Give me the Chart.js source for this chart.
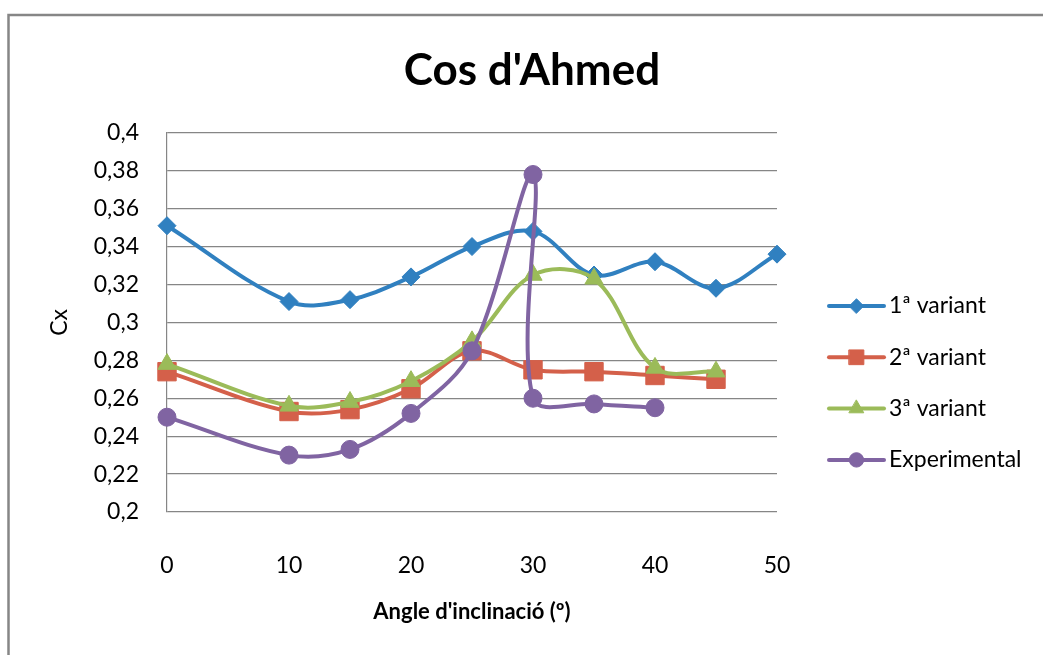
<!DOCTYPE html>
<html>
<head>
<meta charset="utf-8">
<script src="https://cdn.jsdelivr.net/npm/chart.js@4.4.0/dist/chart.umd.min.js"></script>
<style>
  html, body { margin: 0; padding: 0; background: #fff; }
  #wrap { position: relative; width: 1043px; height: 655px; }
</style>
</head>
<body>
<div id="wrap"><canvas id="cxChart"></canvas></div>
<script>
// angles (º) and drag coefficients
const angles1 = [0, 10, 15, 20, 25, 30, 35, 40, 45, 50];
const cx1 = [0.351, 0.311, 0.312, 0.324, 0.340, 0.348, 0.325, 0.332, 0.318, 0.336];
const angles2 = [0, 10, 15, 20, 25, 30, 35, 40, 45];
const cx2 = [0.274, 0.253, 0.254, 0.265, 0.285, 0.275, 0.274, 0.272, 0.270];
const angles3 = [0, 10, 15, 20, 25, 30, 35, 40, 45];
const cx3 = [0.278, 0.256, 0.258, 0.269, 0.290, 0.325, 0.323, 0.276, 0.274];
const anglesExp = [0, 10, 15, 20, 25, 30, 30, 35, 40];
const cxExp = [0.250, 0.230, 0.233, 0.252, 0.285, 0.378, 0.260, 0.257, 0.255];

const seriesNames = ['1ª variant', '2ª variant', '3ª variant', 'Experimental'];
const xTicks = [0, 10, 20, 30, 40, 50];
const yTicks = [0.2, 0.22, 0.24, 0.26, 0.28, 0.3, 0.32, 0.34, 0.36, 0.38, 0.4];
const yTickLabels = ['0,2', '0,22', '0,24', '0,26', '0,28', '0,3', '0,32', '0,34', '0,36', '0,38', '0,4'];

const toPoints = (xs, ys) => xs.map((x, i) => ({ x: x, y: ys[i] }));

Chart.defaults.font.family = 'Lato, sans-serif';
Chart.defaults.color = '#000';

// grey frame of the original picture (top and left edges only)
const framePlugin = {
  id: 'frame',
  beforeDraw(chart) {
    const ctx = chart.ctx;
    ctx.save();
    ctx.fillStyle = '#fff';
    ctx.fillRect(0, 0, chart.width, chart.height);
    ctx.strokeStyle = '#868686';
    ctx.lineWidth = 2.5;
    ctx.beginPath();
    ctx.moveTo(8.5, chart.height);
    ctx.lineTo(8.5, 15);
    ctx.lineTo(chart.width, 15);
    ctx.stroke();
    ctx.restore();
  }
};

// Excel style legend: line with the marker on it
const sideLegend = {
  id: 'sideLegend',
  afterDraw(chart) {
    const ctx = chart.ctx;
    const x0 = chart.chartArea.right + 52;
    ctx.save();
    chart.data.datasets.forEach((ds, i) => {
      const y = 306 + i * 51.3;
      ctx.strokeStyle = ds.borderColor;
      ctx.lineWidth = 4;
      ctx.lineCap = 'round';
      ctx.beginPath();
      ctx.moveTo(x0, y);
      ctx.lineTo(x0 + 55, y);
      ctx.stroke();
      ctx.fillStyle = ds.backgroundColor;
      ctx.lineWidth = 1;
      Chart.helpers.drawPoint(ctx, {
        pointStyle: ds.pointStyle,
        radius: ds.pointRadius * 0.8,
        rotation: 0,
        borderWidth: 1
      }, x0 + 27.5, y);
      ctx.fillStyle = '#000';
      ctx.font = '23px Lato, sans-serif';
      ctx.textAlign = 'left';
      ctx.textBaseline = 'middle';
      ctx.fillText(ds.label, x0 + 60, y);
    });
    ctx.restore();
  }
};

const ctx = document.getElementById('cxChart').getContext('2d');
const cxChart = new Chart(ctx, {
  type: 'line',
  data: {
    datasets: [{
      label: seriesNames[0],
      data: toPoints(angles1, cx1),
      borderColor: '#3080C0',
      backgroundColor: '#3080C0',
      pointStyle: 'rectRot',
      pointRadius: 9,
      order: 4
    }, {
      label: seriesNames[1],
      data: toPoints(angles2, cx2),
      borderColor: '#D4604A',
      backgroundColor: '#D4604A',
      pointStyle: 'rect',
      pointRadius: 13,
      order: 3
    }, {
      label: seriesNames[2],
      data: toPoints(angles3, cx3),
      borderColor: '#9BBB59',
      backgroundColor: '#9BBB59',
      pointStyle: 'triangle',
      pointRadius: 10.5,
      order: 2
    }, {
      label: seriesNames[3],
      data: toPoints(anglesExp, cxExp),
      borderColor: '#8064A2',
      backgroundColor: '#8064A2',
      pointStyle: 'circle',
      pointRadius: 9,
      order: 1
    }]
  },
  options: {
    responsive: true,
    maintainAspectRatio: false,
    animation: false,
    layout: {
      padding: { top: 0, left: 21, right: 0, bottom: 0 }
    },
    datasets: {
      line: {
        borderWidth: 4,
        tension: 0.35,
        pointBorderWidth: 1,
        pointHoverRadius: 9,
        clip: false
      }
    },
    plugins: {
      legend: { display: false },
      tooltip: { enabled: false },
      title: {
        display: true,
        text: "Cos d'Ahmed",
        font: { size: 44, weight: 'bold' },
        color: '#000',
        padding: { top: 44, bottom: 36 }
      }
    },
    scales: {
      x: {
        type: 'linear',
        min: 0,
        max: 50,
        afterBuildTicks: function(scale) {
          scale.ticks = xTicks.map(v => ({ value: v }));
        },
        afterFit: function(scale) {
          scale.height = 143;
        },
        grid: { display: false },
        border: { display: false },
        ticks: {
          font: { size: 23 },
          color: '#000',
          padding: 32,
          maxRotation: 0
        },
        title: {
          display: true,
          text: "Angle d'inclinació (º)",
          font: { size: 22, weight: 'bold' },
          color: '#000',
          padding: { top: 0, bottom: 30 }
        }
      },
      y: {
        min: 0.2,
        max: 0.4,
        afterBuildTicks: function(scale) {
          scale.ticks = yTicks.map(v => ({ value: v }));
        },
        afterFit: function(scale) {
          scale.width = 146;
        },
        grid: {
          color: '#868686',
          lineWidth: 1.2,
          drawTicks: false
        },
        border: { color: '#868686', width: 1.2 },
        ticks: {
          font: { size: 23 },
          color: '#000',
          padding: 28,
          callback: function(value, index) {
            return yTickLabels[index];
          }
        },
        title: {
          display: true,
          text: 'Cx',
          font: { size: 23 },
          color: '#000',
          padding: { top: 25, bottom: 0 }
        }
      },
      // empty axis that keeps the room for the legend on the right
      legendRoom: {
        position: 'right',
        min: 0.2,
        max: 0.4,
        grid: { display: false },
        border: { display: false },
        ticks: { display: false },
        afterFit: function(scale) {
          scale.width = 266;
        }
      }
    }
  },
  plugins: [framePlugin, sideLegend]
});
</script>
</body>
</html>
